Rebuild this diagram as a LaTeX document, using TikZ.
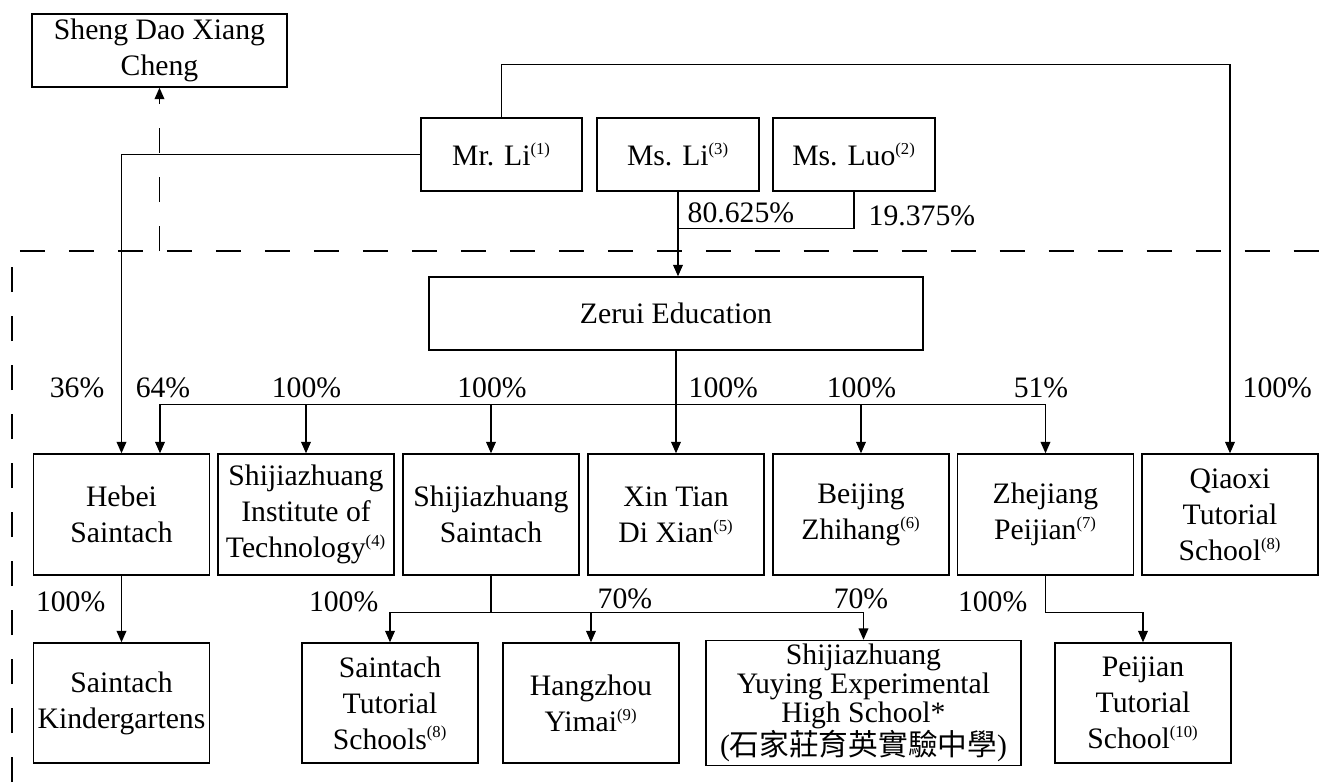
\documentclass[tikz,border=0pt]{standalone}
\usepackage{fontspec}
\setmainfont{Liberation Serif}
\newfontfamily\cjkfont{Noto Sans CJK TC}
\usetikzlibrary{arrows.meta, positioning, calc}
\newcommand{\nt}[1]{\textsuperscript{\fontsize{9.5}{9.5}\selectfont(#1)}}

\begin{document}
\begin{tikzpicture}[x=0.02cm, y=-0.02cm, line width=0.8pt,
    font=\fontsize{16.9}{20.4}\selectfont,
    >={Triangle[width=5.5pt,length=6.5pt]},
    box/.style={draw, align=center, inner sep=2pt, minimum width=3.52cm, minimum height=2.42cm},
    pbox/.style={draw, align=center, inner sep=2pt, minimum height=1.46cm},
    pct/.style={inner sep=0pt},
    grp/.style={dash pattern=on 0.5cm off 0.48cm}]
    \useasboundingbox (0,0) rectangle (1330,782);

    % Shareholders
    \node[pbox, minimum width=5.1cm] (sheng) at (159.5,50.5) {Sheng Dao Xiang\\Cheng};
    \node[pbox, minimum width=3.22cm] (mrli) at (501.5,154.5) {Mr. Li\nt{1}};
    \node[pbox, minimum width=3.24cm] (msli) at (678,154.5) {Ms. Li\nt{3}};
    \node[pbox, minimum width=3.24cm] (msluo) at (854,154.5) {Ms. Luo\nt{2}};
    \node[pbox, minimum width=9.88cm] (zerui) at (676,313.5) {Zerui Education};

    % First level
    \node[box] (hebei) at (121.5,514.5) {Hebei\\Saintach};
    \node[box] (sit) at (306,514.5) {Shijiazhuang\\Institute of\\Technology\nt{4}};
    \node[box] (ssaintach) at (491,514.5) {Shijiazhuang\\Saintach};
    \node[box] (xintian) at (676,514.5) {Xin Tian\\Di Xian\nt{5}};
    \node[box] (beijing) at (861,514.5) {Beijing\\Zhihang\nt{6}};
    \node[box] (zhejiang) at (1045.5,514.5) {Zhejiang\\Peijian\nt{7}};
    \node[box] (qiaoxi) at (1230,514.5) {Qiaoxi\\Tutorial\\School\nt{8}};

    % Second level
    \node[box, minimum height=2.4cm] (kinder) at (121.5,703) {Saintach\\Kindergartens};
    \node[box, minimum height=2.4cm] (tutorial) at (390,703) {Saintach\\Tutorial\\Schools\nt{8}};
    \node[box, minimum height=2.4cm] (hangzhou) at (591,703) {Hangzhou\\Yimai\nt{9}};
    \node[box, minimum height=2.4cm, minimum width=6.3cm, font=\fontsize{16.9}{15.3}\selectfont] (yuying) at (863.5,703)
        {Shijiazhuang\\Yuying Experimental\\High School*\\({\cjkfont 石家莊育英實驗中學})};
    \node[box, minimum height=2.4cm] (peijian) at (1143,703) {Peijian\\Tutorial\\School\nt{10}};

    % Mr. Li
    \draw[->] (mrli.west) -| (hebei.north);
    \draw[->] (mrli.north) -- ++(0,-53) -| (qiaoxi.north);

    % Ms. Li and Ms. Luo
    \draw[->] (msli.south) -- (msli.south |- zerui.north);
    \draw (msluo.south) -- ++(0,37) coordinate (luojoin) -- (luojoin -| msli.south);
    \node[pct, anchor=base west] (p80) at (687,222) {80.625\%};
    \node[pct, anchor=base west] (p19) at (868,225) {19.375\%};

    % Zerui Education
    \draw[->] (zerui.south) -- (xintian.north);
    \coordinate (busA) at ($(zerui.south)+(0,54)$);
    \coordinate (hebeiB) at ($(hebei.north)+(38.5,0)$);
    \draw[->] (zhejiang.north |- busA) -| (hebeiB);
    \foreach \n in {sit, ssaintach, beijing, zhejiang}
        \draw[->] (\n.north |- busA) -- (\n.north);

    \node[pct, anchor=base east] (p36) at (105,397) {36\%};
    \node[pct, anchor=base] (p64) at (163,397) {64\%};
    \node[pct, anchor=base] (psit) at (306.5,397) {100\%};
    \node[pct, anchor=base] (pss) at (492,397) {100\%};
    \node[pct, anchor=base west] (pxt) at (688,397) {100\%};
    \node[pct, anchor=base] (pbj) at (861.5,397) {100\%};
    \node[pct, anchor=base] (pzj) at (1041,397) {51\%};
    \node[pct, anchor=base west] (pqx) at (1242,397) {100\%};

    % Second level links
    \draw[->] (hebei.south) -- (kinder.north);
    \draw (ssaintach.south) -- ++(0,37) coordinate (busB);
    \draw[->] (yuying.north |- busB) -| (tutorial.north);
    \foreach \n in {hangzhou, yuying}
        \draw[->] (\n.north |- busB) -- (\n.north);
    \draw[->] (zhejiang.south) -- ++(0,37) -| (peijian.north);

    \node[pct, anchor=base east] (pkd) at (106,611) {100\%};
    \node[pct, anchor=base east] (ptu) at (379,611) {100\%};
    \node[pct, anchor=base west] (phz) at (597,608) {70\%};
    \node[pct, anchor=base] (pyy) at (861,608) {70\%};
    \node[pct, anchor=base east] (ppj) at (1028,611) {100\%};

    % Group boundary
    \coordinate (grptop) at (12,251);
    \draw[grp] (12,782) -- (grptop) -- (1330,251);
    \draw[grp, ->] (sheng.south |- grptop) -- (sheng.south);
\end{tikzpicture}
\end{document}
